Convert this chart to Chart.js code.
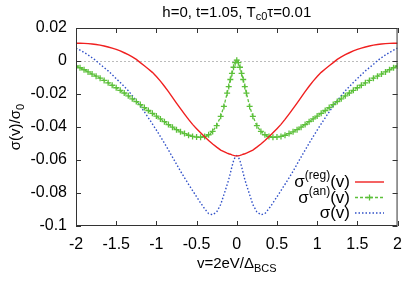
<!DOCTYPE html>
<html>
<head>
<meta charset="utf-8">
<script src="https://cdn.jsdelivr.net/npm/chart.js@4.4.0/dist/chart.umd.min.js"></script>
<style>
  html, body { margin: 0; padding: 0; background: #fff; }
</style>
</head>
<body>
<canvas id="sigmaChart" width="411" height="282"></canvas>
<script>
// v = 2eV/Δ_BCS, finer sampling near the zero-bias peak
const vGrid = [-2, -1.95, -1.9, -1.85, -1.8, -1.75, -1.7, -1.65, -1.6, -1.55, -1.5, -1.45, -1.4, -1.35, -1.3, -1.25,
  -1.2, -1.15, -1.1, -1.05, -1, -0.95, -0.9, -0.85, -0.8, -0.75, -0.7, -0.65, -0.6, -0.55, -0.5, -0.45, -0.4, -0.35,
  -0.3, -0.25, -0.2, -0.16, -0.12, -0.1, -0.08, -0.06, -0.04, -0.02, 0, 0.02, 0.04, 0.06, 0.08, 0.1, 0.12, 0.16, 0.2,
  0.25, 0.3, 0.35, 0.4, 0.45, 0.5, 0.55, 0.6, 0.65, 0.7, 0.75, 0.8, 0.85, 0.9, 0.95, 1, 1.05, 1.1, 1.15, 1.2, 1.25,
  1.3, 1.35, 1.4, 1.45, 1.5, 1.55, 1.6, 1.65, 1.7, 1.75, 1.8, 1.85, 1.9, 1.95, 2];

const sigmaReg = [0.0108, 0.0108, 0.0107, 0.0105, 0.0103, 0.0100, 0.0096, 0.0091, 0.0085, 0.0078, 0.0070, 0.0061,
  0.0050, 0.0038, 0.0025, 0.0010, -0.0010, -0.0029, -0.0048, -0.0069, -0.0094, -0.0122, -0.0153, -0.0186, -0.0220,
  -0.0255, -0.0289, -0.0322, -0.0354, -0.0384, -0.0410, -0.0435, -0.0459, -0.0482, -0.0503, -0.0522, -0.0540,
  -0.0549, -0.0558, -0.0562, -0.0565, -0.0569, -0.0572, -0.0574, -0.0575, -0.0574, -0.0572, -0.0569, -0.0565,
  -0.0562, -0.0558, -0.0549, -0.0540, -0.0522, -0.0503, -0.0482, -0.0459, -0.0435, -0.0410, -0.0384, -0.0354,
  -0.0322, -0.0289, -0.0255, -0.0220, -0.0186, -0.0153, -0.0122, -0.0094, -0.0069, -0.0048, -0.0029, -0.0010,
  0.0010, 0.0025, 0.0038, 0.0050, 0.0061, 0.0070, 0.0078, 0.0085, 0.0091, 0.0096, 0.0100, 0.0103, 0.0105, 0.0107,
  0.0108, 0.0108];

const sigmaAn = [-0.0030, -0.0041, -0.0053, -0.0066, -0.0079, -0.0092, -0.0104, -0.0118, -0.0132, -0.0147, -0.0162,
  -0.0178, -0.0194, -0.0211, -0.0229, -0.0246, -0.0264, -0.0282, -0.0300, -0.0317, -0.0334, -0.0351, -0.0368,
  -0.0385, -0.0401, -0.0416, -0.0429, -0.0440, -0.0450, -0.0457, -0.0461, -0.0462, -0.0458, -0.0447, -0.0427,
  -0.0392, -0.0335, -0.0275, -0.0195, -0.0155, -0.0112, -0.0075, -0.0038, -0.0010, 0.0005, -0.0010, -0.0038,
  -0.0075, -0.0112, -0.0155, -0.0195, -0.0275, -0.0335, -0.0392, -0.0427, -0.0447, -0.0458, -0.0462, -0.0461,
  -0.0457, -0.0450, -0.0440, -0.0429, -0.0416, -0.0401, -0.0385, -0.0368, -0.0351, -0.0334, -0.0317, -0.0300,
  -0.0282, -0.0264, -0.0246, -0.0229, -0.0211, -0.0194, -0.0178, -0.0162, -0.0147, -0.0132, -0.0118, -0.0104,
  -0.0092, -0.0079, -0.0066, -0.0053, -0.0041, -0.0030];

const sigmaTot = [0.0078, 0.0066, 0.0052, 0.0037, 0.0020, 0.0002, -0.0020, -0.0040, -0.0060, -0.0083, -0.0107,
  -0.0130, -0.0155, -0.0180, -0.0210, -0.0240, -0.0274, -0.0308, -0.0344, -0.0381, -0.0419, -0.0458, -0.0498,
  -0.0540, -0.0582, -0.0625, -0.0668, -0.0708, -0.0747, -0.0785, -0.0823, -0.0860, -0.0895, -0.0925, -0.0932,
  -0.0915, -0.0870, -0.0810, -0.0750, -0.0718, -0.0680, -0.0640, -0.0605, -0.0582, -0.0574, -0.0582, -0.0605,
  -0.0640, -0.0680, -0.0718, -0.0750, -0.0810, -0.0870, -0.0915, -0.0932, -0.0925, -0.0895, -0.0860, -0.0823,
  -0.0785, -0.0747, -0.0708, -0.0668, -0.0625, -0.0582, -0.0540, -0.0498, -0.0458, -0.0419, -0.0381, -0.0344,
  -0.0308, -0.0274, -0.0240, -0.0210, -0.0180, -0.0155, -0.0130, -0.0107, -0.0083, -0.0060, -0.0040, -0.0020,
  0.0002, 0.0020, 0.0037, 0.0052, 0.0066, 0.0078];

const xTicks = [-2, -1.5, -1, -0.5, 0, 0.5, 1, 1.5, 2];
const xTickLabels = ['-2', '-1.5', '-1', '-0.5', '0', '0.5', '1', '1.5', '2'];
const yTicks = [-0.1, -0.08, -0.06, -0.04, -0.02, 0, 0.02];
const yTickLabels = ['-0.1', '-0.08', '-0.06', '-0.04', '-0.02', '0', '0.02'];

const FONT = '"Liberation Sans", Arial, sans-serif';
const RED = '#f02020', GREEN = '#5cc03a', BLUE = '#3050c8';

function toPoints(ys) {
  return vGrid.map((v, i) => ({ x: v, y: ys[i] }));
}

// text with sub/superscripts, parts = [text, size, dy]
function drawRich(ctx, parts, x, y, align) {
  let w = 0;
  parts.forEach(p => { ctx.font = p[1] + 'px ' + FONT; w += ctx.measureText(p[0]).width; });
  let cx = align === 'right' ? x - w : (align === 'center' ? x - w / 2 : x);
  ctx.textAlign = 'left';
  ctx.textBaseline = 'alphabetic';
  ctx.fillStyle = '#000';
  parts.forEach(p => {
    ctx.font = p[1] + 'px ' + FONT;
    ctx.fillText(p[0], cx, y + (p[2] || 0));
    cx += ctx.measureText(p[0]).width;
  });
}

function sample(ctx, y, color, dash, width) {
  ctx.strokeStyle = color;
  ctx.lineWidth = width;
  ctx.setLineDash(dash);
  ctx.beginPath();
  ctx.moveTo(355, y);
  ctx.lineTo(384, y);
  ctx.stroke();
  ctx.setLineDash([]);
}

const decor = {
  id: 'decor',
  beforeDatasetsDraw(chart) {
    const { ctx, chartArea: a, scales: { y } } = chart;
    const y0 = Math.round(y.getPixelForValue(0)) + 0.5;
    ctx.save();
    ctx.strokeStyle = '#bbbbbb';
    ctx.lineWidth = 1;
    ctx.setLineDash([2, 2]);
    ctx.beginPath();
    ctx.moveTo(a.left, y0);
    ctx.lineTo(a.right, y0);
    ctx.stroke();
    ctx.restore();
  },
  afterDraw(chart) {
    const { ctx, chartArea: a, scales: { x, y } } = chart;
    ctx.save();
    // frame + inward ticks on all sides
    ctx.strokeStyle = '#333';
    ctx.lineWidth = 1;
    ctx.strokeRect(a.left + 0.5, a.top + 0.5, a.right - a.left - 1, a.bottom - a.top - 1);
    ctx.beginPath();
    xTicks.forEach(v => {
      const px = Math.round(x.getPixelForValue(v)) + 0.5;
      ctx.moveTo(px, a.bottom); ctx.lineTo(px, a.bottom - 5);
      ctx.moveTo(px, a.top); ctx.lineTo(px, a.top + 5);
    });
    yTicks.forEach(v => {
      const py = Math.round(y.getPixelForValue(v)) + 0.5;
      ctx.moveTo(a.left, py); ctx.lineTo(a.left + 5, py);
      ctx.moveTo(a.right, py); ctx.lineTo(a.right - 5, py);
    });
    ctx.stroke();

    // title and axis titles
    const cx = (a.left + a.right) / 2;
    drawRich(ctx, [['h=0, t=1.05, T', 15], ['c0', 11, 3], ['\u03c4=0.01', 15]], cx, 17, 'center');
    drawRich(ctx, [['v=2eV/\u0394', 15], ['BCS', 11, 4]], cx, 268, 'center');
    ctx.save();
    ctx.translate(20, (a.top + a.bottom) / 2);
    ctx.rotate(-Math.PI / 2);
    drawRich(ctx, [['\u03c3(v)/\u03c3', 15], ['0', 11, 4]], 0, 0, 'center');
    ctx.restore();

    // key
    const rows = [182, 197.5, 213];
    drawRich(ctx, [['\u03c3', 17], ['(reg)', 12, -8], ['(v)', 17]], 350, rows[0] + 5, 'right');
    drawRich(ctx, [['\u03c3', 17], ['(an)', 12, -8], ['(v)', 17]], 350, rows[1] + 5, 'right');
    drawRich(ctx, [['\u03c3(v)', 17]], 350, rows[2] + 5, 'right');
    sample(ctx, rows[0], RED, [], 1.4);
    sample(ctx, rows[1], GREEN, [3, 2], 1.4);
    ctx.lineWidth = 1.3;
    ctx.beginPath();
    ctx.moveTo(366.5, rows[1]); ctx.lineTo(372.5, rows[1]);
    ctx.moveTo(369.5, rows[1] - 3); ctx.lineTo(369.5, rows[1] + 3);
    ctx.stroke();
    sample(ctx, rows[2], BLUE, [1.5, 2], 1.4);
    ctx.restore();
  }
};

new Chart(document.getElementById('sigmaChart').getContext('2d'), {
  type: 'line',
  data: {
    datasets: [
      { label: 'σ(reg)(v)', data: toPoints(sigmaReg), borderColor: RED, borderWidth: 1.4, pointRadius: 0 },
      { label: 'σ(an)(v)', data: toPoints(sigmaAn), borderColor: GREEN, borderWidth: 1.3, borderDash: [3, 2],
        pointStyle: 'cross', pointRadius: 3, pointBorderColor: GREEN, pointBorderWidth: 1.3 },
      { label: 'σ(v)', data: toPoints(sigmaTot), borderColor: BLUE, borderWidth: 1.4, borderDash: [1.5, 2], pointRadius: 0 }
    ]
  },
  options: {
    responsive: false,
    animation: false,
    devicePixelRatio: 1,
    layout: { padding: { top: 28, right: 8, left: 0, bottom: 0 } },
    plugins: { legend: { display: false }, title: { display: false }, tooltip: { enabled: false } },
    scales: {
      x: {
        type: 'linear', min: -2, max: 2,
        grid: { display: false, drawTicks: false }, border: { display: false },
        afterBuildTicks: s => { s.ticks = xTicks.map(v => ({ value: v })); },
        afterFit: s => { s.height = 56; },
        ticks: {
          padding: 9, color: '#000', autoSkip: false, maxRotation: 0,
          font: { family: FONT, size: 16 },
          callback: (v, i) => xTickLabels[i]
        }
      },
      y: {
        type: 'linear', min: -0.1, max: 0.02,
        grid: { display: false, drawTicks: false }, border: { display: false },
        afterBuildTicks: s => { s.ticks = yTicks.map(v => ({ value: v })); },
        afterFit: s => { s.width = 76; },
        ticks: {
          padding: 9, color: '#000', autoSkip: false,
          font: { family: FONT, size: 16 },
          callback: (v, i) => yTickLabels[i]
        }
      }
    }
  },
  plugins: [decor]
});
</script>
</body>
</html>
